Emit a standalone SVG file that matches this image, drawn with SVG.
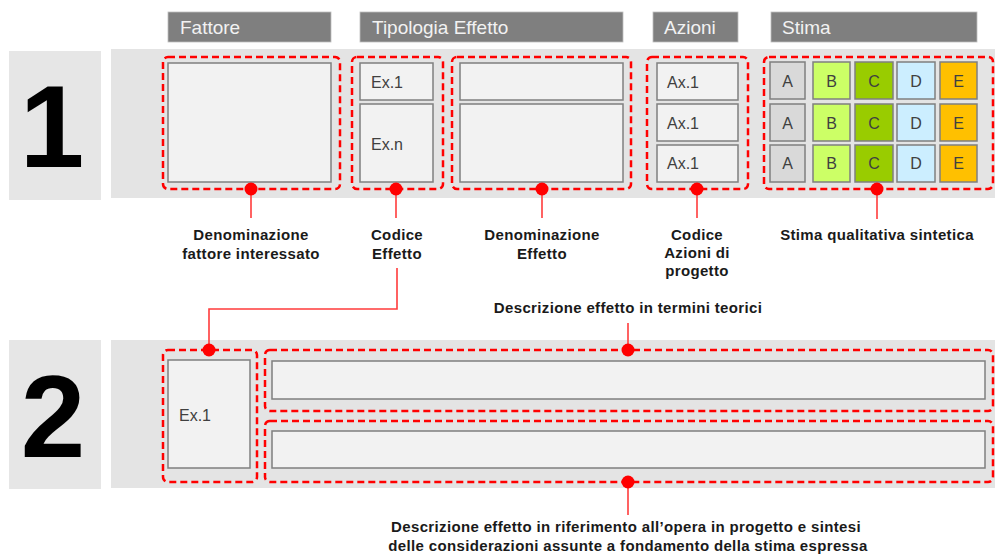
<svg xmlns="http://www.w3.org/2000/svg" width="995" height="554" viewBox="0 0 995 554">
<style>
.hdr{fill:#7f7f7f;stroke:#bfbfbf;stroke-width:0.8}
.ht{font-family:"Liberation Sans",Arial,sans-serif;font-size:19px;fill:#f2f2f2}
.num{fill:#e6e6e6}
.panel{fill:#e4e4e4}
.grp{fill:none;stroke:#ff0000;stroke-width:2.5;stroke-dasharray:7 4}
.box{fill:#f2f2f2;stroke:#7f7f7f;stroke-width:1.5}
.bt{font-family:"Liberation Sans",Arial,sans-serif;font-size:16px;fill:#404040}
.ct{font-family:"Liberation Sans",Arial,sans-serif;font-size:16px;fill:#404040;text-anchor:middle}
.lbl{font-family:"Liberation Sans",Arial,sans-serif;font-size:15px;font-weight:bold;fill:#1a1a1a;text-anchor:middle;letter-spacing:0.35px}
.big{font-family:"Liberation Sans",Arial,sans-serif;font-size:116px;font-weight:bold;fill:#000;text-anchor:middle}
.dot{fill:#ff0000}
.ln{fill:none;stroke:#ff3b3b;stroke-width:1.6}
.a{fill:#d9d9d9}.b{fill:#ccff66}.c{fill:#99cc00}.d{fill:#cceeff}.e{fill:#ffc000}
.cell{stroke:#7f7f7f;stroke-width:1.5}
</style>

<g id="headers">
  <rect class="hdr" x="168" y="12" width="163" height="30"/>
  <text class="ht" x="180" y="34">Fattore</text>
  <rect class="hdr" x="360" y="12" width="263" height="30"/>
  <text class="ht" x="372" y="34">Tipologia Effetto</text>
  <rect class="hdr" x="653" y="12" width="85" height="30"/>
  <text class="ht" x="664" y="34">Azioni</text>
  <rect class="hdr" x="771" y="12" width="206" height="30"/>
  <text class="ht" x="782" y="34">Stima</text>
</g>

<g id="row1-bg">
  <rect class="num" x="9" y="51" width="92" height="149"/>
  <text class="big" x="52" y="167">1</text>
  <rect class="panel" x="111" y="49" width="884" height="149"/>
</g>

<g id="row2-bg">
  <rect class="num" x="9" y="340" width="92" height="149"/>
  <text class="big" x="53" y="457">2</text>
  <rect class="panel" x="111" y="340" width="884" height="148"/>
</g>

<g id="fattore">
  <rect class="box" x="168" y="63" width="163" height="119"/>
  <rect class="grp" x="163" y="57" width="177" height="132" rx="5"/>
</g>

<g id="codice-effetto">
  <rect class="box" x="360" y="63" width="73" height="37"/>
  <text class="bt" x="371" y="88">Ex.1</text>
  <rect class="box" x="360" y="104" width="73" height="78"/>
  <text class="bt" x="371" y="150">Ex.n</text>
  <rect class="grp" x="352" y="57" width="91" height="132" rx="5"/>
</g>

<g id="denominazione-effetto">
  <rect class="box" x="460" y="63" width="163" height="37"/>
  <rect class="box" x="460" y="104" width="163" height="78"/>
  <rect class="grp" x="452" y="57" width="179" height="132" rx="5"/>
</g>

<g id="azioni">
  <rect class="box" x="657" y="63" width="81" height="37"/>
  <text class="bt" x="667" y="88">Ax.1</text>
  <rect class="box" x="657" y="104" width="81" height="37"/>
  <text class="bt" x="667" y="129">Ax.1</text>
  <rect class="box" x="657" y="145" width="81" height="37"/>
  <text class="bt" x="667" y="169">Ax.1</text>
  <rect class="grp" x="647" y="57" width="101" height="132" rx="5"/>
</g>

<g id="stima">
  <rect class="cell a" x="770" y="62" width="35" height="37"/>
  <rect class="cell b" x="813" y="62" width="37" height="37"/>
  <rect class="cell c" x="855" y="62" width="38" height="37"/>
  <rect class="cell d" x="897" y="62" width="38" height="37"/>
  <rect class="cell e" x="940" y="62" width="37" height="37"/>
  <rect class="cell a" x="770" y="104" width="35" height="37"/>
  <rect class="cell b" x="813" y="104" width="37" height="37"/>
  <rect class="cell c" x="855" y="104" width="38" height="37"/>
  <rect class="cell d" x="897" y="104" width="38" height="37"/>
  <rect class="cell e" x="940" y="104" width="37" height="37"/>
  <rect class="cell a" x="770" y="145" width="35" height="37"/>
  <rect class="cell b" x="813" y="145" width="37" height="37"/>
  <rect class="cell c" x="855" y="145" width="38" height="37"/>
  <rect class="cell d" x="897" y="145" width="38" height="37"/>
  <rect class="cell e" x="940" y="145" width="37" height="37"/>
  <text class="ct" x="787.5" y="87">A</text><text class="ct" x="831.5" y="87">B</text><text class="ct" x="874" y="87">C</text><text class="ct" x="916" y="87">D</text><text class="ct" x="958.5" y="87">E</text>
  <text class="ct" x="787.5" y="129">A</text><text class="ct" x="831.5" y="129">B</text><text class="ct" x="874" y="129">C</text><text class="ct" x="916" y="129">D</text><text class="ct" x="958.5" y="129">E</text>
  <text class="ct" x="787.5" y="169">A</text><text class="ct" x="831.5" y="169">B</text><text class="ct" x="874" y="169">C</text><text class="ct" x="916" y="169">D</text><text class="ct" x="958.5" y="169">E</text>
  <rect class="grp" x="764" y="57" width="229" height="132" rx="5"/>
</g>

<g id="codice-ex1">
  <rect class="box" x="168" y="360" width="82" height="108"/>
  <text class="bt" x="179" y="421">Ex.1</text>
  <rect class="grp" x="163" y="350" width="94" height="132" rx="5"/>
</g>

<g id="descrizione-teorica">
  <rect class="box" x="272" y="361" width="713" height="38"/>
  <rect class="grp" x="265" y="350" width="728" height="61" rx="5"/>
</g>

<g id="descrizione-opera">
  <rect class="box" x="272" y="431" width="713" height="37"/>
  <rect class="grp" x="265" y="421" width="728" height="61" rx="5"/>
</g>

<g id="connectors">
  <line class="ln" x1="251" y1="189" x2="251" y2="218"/>
  <line class="ln" x1="396" y1="189" x2="396" y2="218"/>
  <line class="ln" x1="542" y1="189" x2="542" y2="218"/>
  <line class="ln" x1="697" y1="189" x2="697" y2="218"/>
  <line class="ln" x1="877" y1="189" x2="877" y2="219"/>
  <polyline class="ln" points="397,268 397,309 209,309 209,350"/>
  <line class="ln" x1="628" y1="323" x2="628" y2="350"/>
  <line class="ln" x1="628" y1="482" x2="628" y2="515"/>
  <circle class="dot" cx="251" cy="189" r="6.5"/>
  <circle class="dot" cx="396" cy="189" r="6.5"/>
  <circle class="dot" cx="542" cy="189" r="6.5"/>
  <circle class="dot" cx="697" cy="189" r="6.5"/>
  <circle class="dot" cx="877" cy="189" r="6.5"/>
  <circle class="dot" cx="209" cy="350" r="6.5"/>
  <circle class="dot" cx="628" cy="350" r="6.5"/>
  <circle class="dot" cx="628" cy="482" r="6.5"/>
</g>

<g id="labels">
  <text class="lbl" x="251" y="240">Denominazione</text>
  <text class="lbl" x="251" y="259">fattore interessato</text>
  <text class="lbl" x="397" y="240">Codice</text>
  <text class="lbl" x="397" y="259">Effetto</text>
  <text class="lbl" x="542" y="240">Denominazione</text>
  <text class="lbl" x="542" y="259">Effetto</text>
  <text class="lbl" x="697" y="240">Codice</text>
  <text class="lbl" x="697" y="258">Azioni di</text>
  <text class="lbl" x="697" y="276">progetto</text>
  <text class="lbl" x="877" y="240">Stima qualitativa sintetica</text>
  <text class="lbl" x="628" y="313">Descrizione effetto in termini teorici</text>
  <text class="lbl" x="626" y="532">Descrizione effetto in riferimento all’opera in progetto e sintesi</text>
  <text class="lbl" x="628" y="551">delle considerazioni assunte a fondamento della stima espressa</text>
</g>
</svg>
